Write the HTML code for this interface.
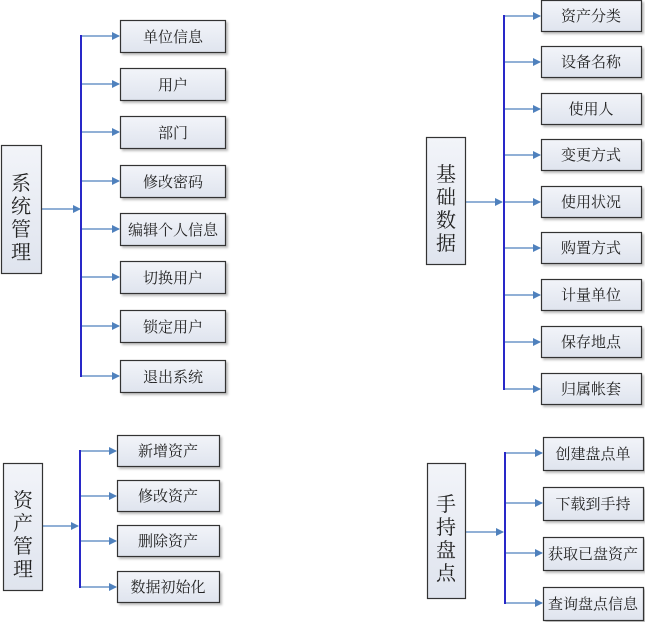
<!DOCTYPE html>
<html><head><meta charset="utf-8"><style>
html,body{margin:0;padding:0;background:#fff;}
svg text{font-family:"Liberation Serif","Noto Serif CJK SC",serif;font-size:15px;fill:#222;}
svg text.r{font-size:20px;}
</style></head><body>
<svg width="645" height="622" viewBox="0 0 645 622" xmlns="http://www.w3.org/2000/svg">
<defs>
<linearGradient id="g" x1="0" y1="0" x2="0" y2="1"><stop offset="0" stop-color="#f2f4f9"/><stop offset="1" stop-color="#dfe4ee"/></linearGradient>
<marker id="a" markerWidth="8" markerHeight="8" refX="7" refY="4" orient="auto" markerUnits="userSpaceOnUse"><path d="M0,0 L8,4 L0,8 Z" fill="#4f81bd"/></marker>
</defs>
<g stroke="#4f81bd" stroke-width="1.2" fill="none">
<line x1="41" y1="209" x2="80" y2="209" marker-end="url(#a)"/>
<line x1="81" y1="36" x2="119" y2="36" marker-end="url(#a)"/>
<line x1="81" y1="84" x2="119" y2="84" marker-end="url(#a)"/>
<line x1="81" y1="132" x2="119" y2="132" marker-end="url(#a)"/>
<line x1="81" y1="181" x2="119" y2="181" marker-end="url(#a)"/>
<line x1="81" y1="229" x2="119" y2="229" marker-end="url(#a)"/>
<line x1="81" y1="277" x2="119" y2="277" marker-end="url(#a)"/>
<line x1="81" y1="326" x2="119" y2="326" marker-end="url(#a)"/>
<line x1="81" y1="376" x2="119" y2="376" marker-end="url(#a)"/>
<line x1="465" y1="202" x2="502" y2="202" marker-end="url(#a)"/>
<line x1="504" y1="16" x2="540" y2="16" marker-end="url(#a)"/>
<line x1="504" y1="62" x2="540" y2="62" marker-end="url(#a)"/>
<line x1="504" y1="109" x2="540" y2="109" marker-end="url(#a)"/>
<line x1="504" y1="155" x2="540" y2="155" marker-end="url(#a)"/>
<line x1="504" y1="202" x2="540" y2="202" marker-end="url(#a)"/>
<line x1="504" y1="248" x2="540" y2="248" marker-end="url(#a)"/>
<line x1="504" y1="295" x2="540" y2="295" marker-end="url(#a)"/>
<line x1="504" y1="342" x2="540" y2="342" marker-end="url(#a)"/>
<line x1="504" y1="389" x2="540" y2="389" marker-end="url(#a)"/>
<line x1="42" y1="526" x2="78" y2="526" marker-end="url(#a)"/>
<line x1="80" y1="451" x2="116" y2="451" marker-end="url(#a)"/>
<line x1="80" y1="496" x2="116" y2="496" marker-end="url(#a)"/>
<line x1="80" y1="541" x2="116" y2="541" marker-end="url(#a)"/>
<line x1="80" y1="587" x2="116" y2="587" marker-end="url(#a)"/>
<line x1="465" y1="532" x2="503" y2="532" marker-end="url(#a)"/>
<line x1="505" y1="453" x2="542" y2="453" marker-end="url(#a)"/>
<line x1="505" y1="503" x2="542" y2="503" marker-end="url(#a)"/>
<line x1="505" y1="553" x2="542" y2="553" marker-end="url(#a)"/>
<line x1="505" y1="603" x2="542" y2="603" marker-end="url(#a)"/>
</g>
<g stroke="#2828c8" stroke-width="2">
<line x1="81" y1="35" x2="81" y2="377"/>
<line x1="504" y1="15" x2="504" y2="390"/>
<line x1="80" y1="450" x2="80" y2="588"/>
<line x1="505" y1="452" x2="505" y2="604"/>
</g>
<g fill="url(#g)" stroke="#333" stroke-width="1.2">
<rect x="1.5" y="145.5" width="40" height="128"/>
<rect x="426.5" y="137.5" width="39" height="127"/>
<rect x="3.5" y="463.5" width="39" height="127"/>
<rect x="427.5" y="463.5" width="38" height="135"/>
</g>
<g fill="url(#g)" stroke="#333" stroke-width="1.2" style="filter:drop-shadow(2px 2px 1px rgba(0,0,0,0.25))">
<rect x="120.5" y="20.5" width="105" height="32"/>
<rect x="120.5" y="68.5" width="105" height="32"/>
<rect x="120.5" y="116.5" width="105" height="32"/>
<rect x="120.5" y="165.5" width="105" height="32"/>
<rect x="120.5" y="213.5" width="105" height="32"/>
<rect x="120.5" y="261.5" width="105" height="32"/>
<rect x="120.5" y="310.5" width="105" height="32"/>
<rect x="120.5" y="360.5" width="105" height="32"/>
<rect x="541.5" y="0.5" width="100" height="31"/>
<rect x="541.5" y="46.5" width="100" height="31"/>
<rect x="541.5" y="93.5" width="100" height="31"/>
<rect x="541.5" y="139.5" width="100" height="31"/>
<rect x="541.5" y="186.5" width="100" height="31"/>
<rect x="541.5" y="232.5" width="100" height="31"/>
<rect x="541.5" y="279.5" width="100" height="31"/>
<rect x="541.5" y="326.5" width="100" height="31"/>
<rect x="541.5" y="373.5" width="100" height="31"/>
<rect x="117.5" y="435.5" width="102" height="31"/>
<rect x="117.5" y="480.5" width="102" height="31"/>
<rect x="117.5" y="525.5" width="102" height="31"/>
<rect x="117.5" y="571.5" width="102" height="31"/>
<rect x="543.5" y="437.5" width="100" height="33"/>
<rect x="543.5" y="487.5" width="100" height="33"/>
<rect x="543.5" y="537.5" width="100" height="33"/>
<rect x="543.5" y="587.5" width="100" height="33"/>
</g>
<g text-anchor="middle">
<text x="173" y="42">单位信息</text>
<text x="173" y="90">用户</text>
<text x="173" y="138">部门</text>
<text x="173" y="187">修改密码</text>
<text x="173" y="235">编辑个人信息</text>
<text x="173" y="283">切换用户</text>
<text x="173" y="332">锁定用户</text>
<text x="173" y="382">退出系统</text>
<text x="591" y="21">资产分类</text>
<text x="591" y="67">设备名称</text>
<text x="591" y="114">使用人</text>
<text x="591" y="160">变更方式</text>
<text x="591" y="207">使用状况</text>
<text x="591" y="253">购置方式</text>
<text x="591" y="300">计量单位</text>
<text x="591" y="347">保存地点</text>
<text x="591" y="394">归属帐套</text>
<text x="168" y="456">新增资产</text>
<text x="168" y="501">修改资产</text>
<text x="168" y="546">删除资产</text>
<text x="168" y="592">数据初始化</text>
<text x="593" y="459">创建盘点单</text>
<text x="593" y="509">下载到手持</text>
<text x="593" y="559">获取已盘资产</text>
<text x="593" y="609">查询盘点信息</text>
</g>
<g text-anchor="middle">
<text class="r" x="21" y="190">系</text><text class="r" x="21" y="213">统</text><text class="r" x="21" y="236">管</text><text class="r" x="21" y="259">理</text>
<text class="r" x="446" y="181">基</text><text class="r" x="446" y="204">础</text><text class="r" x="446" y="227">数</text><text class="r" x="446" y="250">据</text>
<text class="r" x="23" y="507">资</text><text class="r" x="23" y="530">产</text><text class="r" x="23" y="553">管</text><text class="r" x="23" y="576">理</text>
<text class="r" x="446" y="511">手</text><text class="r" x="446" y="534">持</text><text class="r" x="446" y="557">盘</text><text class="r" x="446" y="580">点</text>
</g>
</svg>
</body></html>
